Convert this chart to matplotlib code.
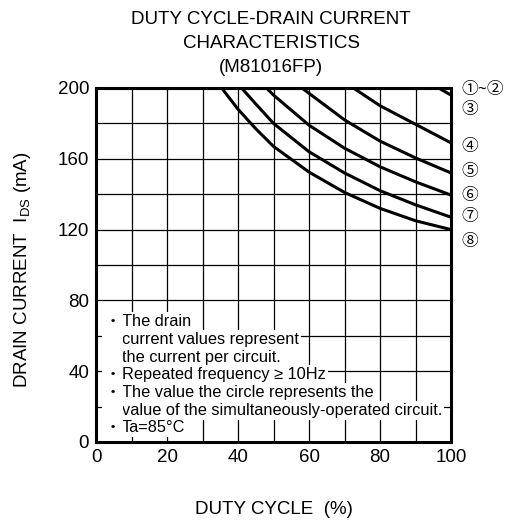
import matplotlib
matplotlib.use('Agg')
import matplotlib.pyplot as plt

plt.rcParams['font.family'] = ['Liberation Sans', 'Noto Sans CJK JP', 'DejaVu Sans']
plt.rcParams['mathtext.fontset'] = 'custom'
plt.rcParams['mathtext.rm'] = 'Liberation Sans'

# duty cycle (%) vs drain current (mA)
duty12 = [0, 100]
curr12 = [200, 200]
duty3 = [96.5, 100]
curr3 = [200, 196]
duty4 = [72.5, 80, 90, 100]
curr4 = [200, 190, 179.5, 169]
duty5 = [58, 60, 70, 80, 90, 100]
curr5 = [200, 197, 182, 170, 160.5, 152]
duty6 = [48, 50, 60, 70, 80, 90, 100]
curr6 = [200, 196, 179, 166, 155.5, 147, 139.5]
duty7 = [41, 45, 50, 60, 70, 80, 90, 100]
curr7 = [200, 191, 180, 164, 152, 142, 134, 127]
duty8 = [35.4, 40, 45, 50, 60, 70, 80, 90, 100]
curr8 = [200, 188, 177, 167, 152.5, 141, 132, 125, 120]

curve_labels = ['①~②', '③', '④', '⑤', '⑥', '⑦', '⑧']
label_y = [199.3, 187.6, 166.8, 152.7, 139, 127.3, 113]

notes = [
    'The drain',
    'current values represent',
    'the current per circuit.',
    'Repeated frequency ≥ 10Hz',
    'The value the circle represents the',
    'value of the simultaneously-operated circuit.',
    'Ta=85°C',
]
bullets = [True, False, False, True, True, False, True]
notes_y = [68, 58, 48, 38, 28, 18, 8]

fig = plt.figure(figsize=(5.16, 5.21), dpi=100)
ax = fig.add_axes([96/516, 1-442/521, 355/516, 354/521])

lw = 2.2
for d, c in [(duty12, curr12), (duty3, curr3), (duty4, curr4), (duty5, curr5),
             (duty6, curr6), (duty7, curr7), (duty8, curr8)]:
    ax.plot(d, c, color='black', linewidth=lw, solid_capstyle='butt', zorder=4)

ax.set_xlim(0, 100)
ax.set_ylim(0, 200)
ax.set_xticks(range(0, 101, 20))
ax.set_xticks(range(10, 100, 20), minor=True)
ax.set_yticks(range(0, 201, 40))
ax.set_yticks(range(20, 200, 40), minor=True)
ax.grid(which='both', color='black', linewidth=0.9)
ax.set_axisbelow(True)
ax.tick_params(which='both', length=0, labelsize=13.5, pad=5)
for s in ax.spines.values():
    s.set_linewidth(lw)
    s.set_zorder(5)

box = dict(facecolor='white', edgecolor='none', pad=1.5)
for txt, b, y in zip(notes, bullets, notes_y):
    ax.text(7.3, y, txt, fontsize=11.75, va='center', ha='left', zorder=3, bbox=box)
    # blank bullet on continuation lines keeps the white box the same width
    ax.text(2.3, y, '・', fontsize=11.75, va='center', ha='left', zorder=3, bbox=box,
            color='black' if b else 'white')

for lab, y in zip(curve_labels, label_y):
    ax.text(103, y, lab, fontsize=12, va='center', ha='left', clip_on=False,
            family=['Noto Sans CJK JP', 'DejaVu Sans'])

for line, y in zip(['DUTY CYCLE-DRAIN CURRENT', 'CHARACTERISTICS', '(M81016FP)'], [20, 44, 68]):
    fig.text(271/516, 1-y/521, line, fontsize=13.5, ha='center', va='center')

fig.text(274/516, 1-510/521, 'DUTY CYCLE  (%)', fontsize=13.5, ha='center', va='center')
fig.text(23/516, 1-270/521, r'DRAIN CURRENT  I$_{\mathregular{DS}}$ (mA)', fontsize=13.5,
         ha='center', va='center', rotation=90)

fig.savefig('out.png', dpi=100)
